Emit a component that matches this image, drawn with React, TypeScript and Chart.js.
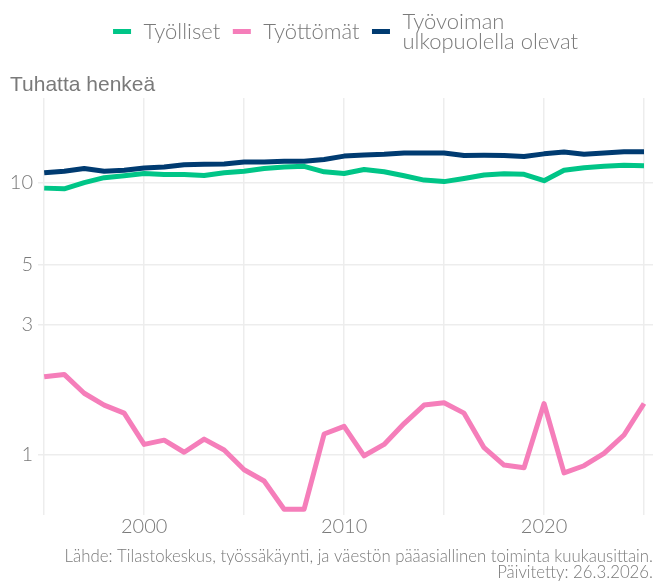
import React, { useEffect, useRef } from "react";
import { Chart, registerables } from "chart.js";

Chart.register(...registerables);

const years = [
  1995, 1996, 1997, 1998, 1999, 2000, 2001, 2002, 2003, 2004, 2005, 2006, 2007, 2008, 2009, 2010,
  2011, 2012, 2013, 2014, 2015, 2016, 2017, 2018, 2019, 2020, 2021, 2022, 2023, 2024, 2025,
];

const tyolliset = [
  9.52, 9.46, 9.97, 10.4, 10.57, 10.77, 10.68, 10.68, 10.6, 10.84, 10.98, 11.23, 11.39, 11.45, 10.93,
  10.77, 11.14, 10.93, 10.57, 10.19, 10.06, 10.33, 10.63, 10.75, 10.7, 10.14, 11.08, 11.32, 11.45,
  11.54, 11.5,
];

const tyottomat = [
  1.93, 1.97, 1.68, 1.52, 1.42, 1.09, 1.13, 1.02, 1.14, 1.04, 0.88, 0.8, 0.63, 0.63, 1.19, 1.27, 0.99,
  1.09, 1.3, 1.52, 1.55, 1.42, 1.06, 0.915, 0.895, 1.54, 0.857, 0.91, 1.01, 1.18, 1.54,
];

const ulkopuolella = [
  10.84, 10.98, 11.23, 10.98, 11.08, 11.29, 11.39, 11.61, 11.65, 11.68, 11.87, 11.87, 11.94, 11.94,
  12.13, 12.48, 12.61, 12.67, 12.82, 12.82, 12.82, 12.54, 12.56, 12.54, 12.43, 12.72, 12.93, 12.67,
  12.82, 12.96, 12.96,
];

const seriesNames = ["Työlliset", "Työttömät", "Työvoiman ulkopuolella olevat"];
const legendLines = [["Työlliset"], ["Työttömät"], ["Työvoiman", "ulkopuolella olevat"]];
const seriesColors = ["#00C587", "#F57EBA", "#003B71"];

const xTicks = [1995, 2000, 2005, 2010, 2015, 2020, 2025];
const xLabelled = [2000, 2010, 2020];
const yTicks = [1, 3, 5, 10];

const titleText = "Tuhatta henkeä";
const captionLines = [
  "Lähde: Tilastokeskus, työssäkäynti, ja väestön pääasiallinen toiminta kuukausittain.",
  "Päivitetty: 26.3.2026.",
];

const TEXT_GREY = "#7a7a7a";
const GRID = "#ededed";

const legendPlugin = {
  id: "customLegend",
  afterDraw(chart: any) {
    const ctx = chart.ctx as CanvasRenderingContext2D;
    const size = 22;
    ctx.save();
    ctx.font = `300 ${size}px Lato`;
    const swatchW = 18;
    const gapSwatch = 12.5;
    const gapItem = 12.5;
    const widths = legendLines.map((lines) =>
      Math.max(...lines.map((l) => ctx.measureText(l).width))
    );
    const total =
      widths.reduce((a, w) => a + swatchW + gapSwatch + w, 0) + gapItem * (widths.length - 1);
    const area = chart.chartArea;
    let x = (area.left + area.right) / 2 - total / 2;
    const centerY = 31.5;
    legendLines.forEach((lines, i) => {
      ctx.fillStyle = seriesColors[i];
      ctx.fillRect(x, centerY - 2.5, swatchW, 5);
      const tx = x + swatchW + gapSwatch;
      ctx.fillStyle = TEXT_GREY;
      ctx.textAlign = "left";
      ctx.textBaseline = "alphabetic";
      const lh = 20;
      const n = lines.length;
      lines.forEach((l, j) => {
        const cy = centerY + (j - (n - 1) / 2) * lh;
        ctx.fillText(l, tx, cy + size * 0.36);
      });
      x = tx + widths[i] + gapItem;
    });
    ctx.restore();
  },
};

export default function App() {
  const canvasRef = useRef<HTMLCanvasElement | null>(null);

  useEffect(() => {
    if (!canvasRef.current) return;
    const datasets = [tyolliset, tyottomat, ulkopuolella].map((vals, i) => ({
      label: seriesNames[i],
      data: years.map((yr, k) => ({ x: yr, y: vals[k] })),
      borderColor: seriesColors[i],
      backgroundColor: seriesColors[i],
      borderWidth: 5,
      pointRadius: 0,
      pointHoverRadius: 0,
      tension: 0,
      clip: 0,
      borderJoinStyle: "round" as const,
    }));

    const chart = new Chart(canvasRef.current, {
      type: "line",
      data: { datasets },
      plugins: [legendPlugin],
      options: {
        animation: false,
        responsive: true,
        maintainAspectRatio: false,
        layout: { padding: { top: 72.6, left: 10, right: 0, bottom: 0 } },
        plugins: {
          legend: { display: false },
          tooltip: { enabled: false },
          title: {
            display: true,
            text: titleText,
            align: "start",
            color: TEXT_GREY,
            font: { family: "'Liberation Sans', Arial, sans-serif", size: 21, weight: "normal", lineHeight: 1.2 },
            padding: { top: 0, bottom: 0.2 },
          },
          subtitle: {
            display: true,
            position: "bottom",
            align: "end",
            text: captionLines,
            color: TEXT_GREY,
            font: { family: "Lato", size: 16.8, weight: "300", lineHeight: "16.5px" },
            padding: { top: 0, bottom: 0 },
          },
        },
        scales: {
          x: {
            type: "linear",
            min: 1994.69,
            max: 2025.45,
            afterBuildTicks: (scale: any) => {
              scale.ticks = xTicks.map((v) => ({ value: v }));
            },
            afterFit: (scale: any) => {
              scale.height = 33;
            },
            ticks: {
              autoSkip: false,
              maxRotation: 0,
              padding: 0,
              color: TEXT_GREY,
              font: { family: "Lato", size: 20, weight: "300", lineHeight: 1.2 },
              callback: (v: any) => (xLabelled.includes(Number(v)) ? String(v) : ""),
            },
            grid: { color: GRID, lineWidth: 1.5, drawTicks: false },
            border: { display: false },
          },
          y: {
            type: "logarithmic",
            min: 0.645,
            max: 20.4,
            afterBuildTicks: (scale: any) => {
              scale.ticks = yTicks.map((v) => ({ value: v }));
            },
            afterFit: (scale: any) => {
              scale.width = 28;
            },
            ticks: {
              padding: 5,
              color: TEXT_GREY,
              font: { family: "Lato", size: 20, weight: "300", lineHeight: 1.2 },
              callback: (v: any) => String(v),
            },
            grid: { color: GRID, lineWidth: 1.5, drawTicks: false },
            border: { display: false },
          },
        },
      },
    } as any);
    return () => chart.destroy();
  }, []);

  return (
    <div style={{ position: "fixed", left: 0, top: 0, width: 653, height: 581, background: "#fff" }}>
      <canvas ref={canvasRef} />
    </div>
  );
}
